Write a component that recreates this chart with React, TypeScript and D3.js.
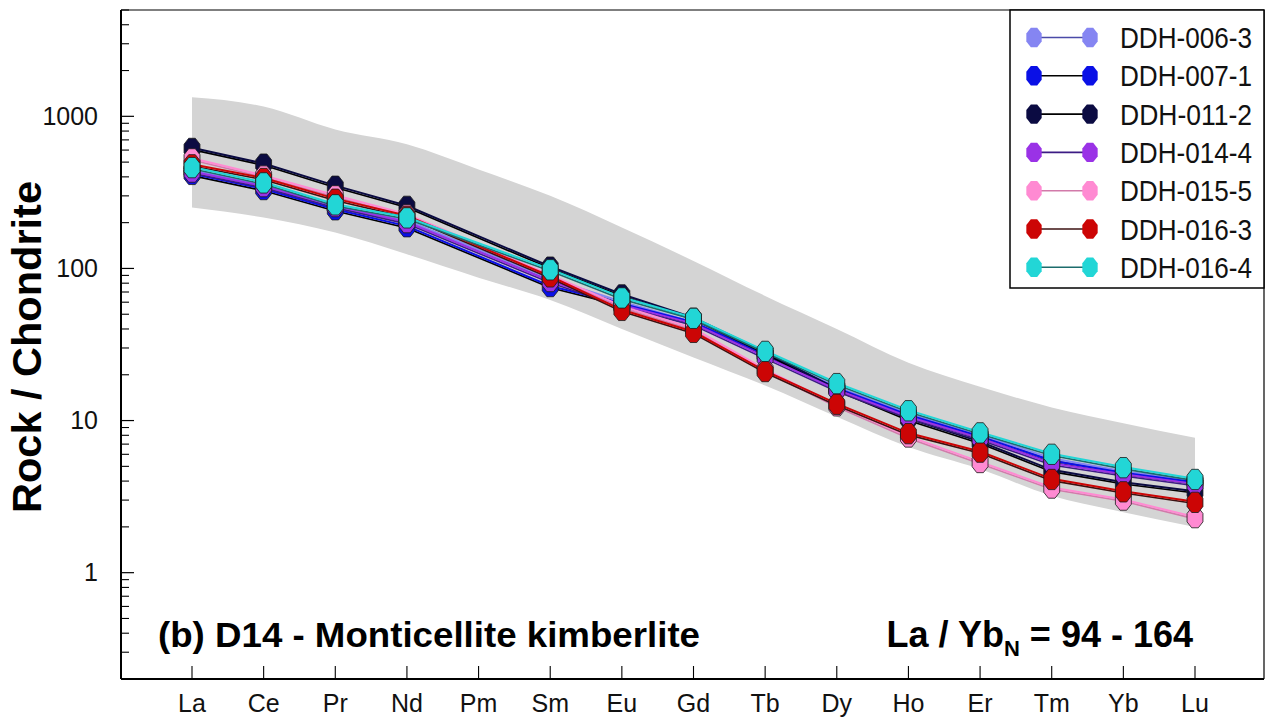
import React from "react";
import * as d3 from "d3";

const elements = ["La", "Ce", "Pr", "Nd", "Pm", "Sm", "Eu", "Gd", "Tb", "Dy", "Ho", "Er", "Tm", "Yb", "Lu"];
const seriesNames = ["DDH-006-3", "DDH-007-1", "DDH-011-2", "DDH-014-4", "DDH-015-5", "DDH-016-3", "DDH-016-4"];

const ddh0063 = [440, 350, 255, 205, null, 85, 60, 44, 27, 16.5, 11.0, 8.0, 5.6, 4.6, 4.0];
const ddh0071 = [415, 330, 243, 188, null, 76, 58, 44, 27, 16.2, 10.8, 7.8, 5.4, 4.5, 3.9];
const ddh0112 = [615, 485, 347, 256, null, 102, 67, 47, 28, 16.0, 10.2, 7.2, 4.7, 3.9, 3.4];
const ddh0144 = [430, 345, 255, 200, null, 82, 57, 43, 26, 15.8, 10.5, 7.6, 5.2, 4.4, 3.8];
const ddh0155 = [525, 405, 300, 225, null, 90, 56, 40, 21.5, 12.5, 7.8, 5.3, 3.6, 3.0, 2.3];
const ddh0163 = [480, 390, 285, 220, null, 88, 53, 38, 21, 12.8, 8.2, 6.2, 4.1, 3.4, 2.9];
const ddh0164 = [460, 365, 262, 215, null, 98, 64, 47, 28.5, 17.5, 11.6, 8.3, 6.0, 4.9, 4.1];

const seriesValues = [ddh0063, ddh0071, ddh0112, ddh0144, ddh0155, ddh0163, ddh0164];
const markerColors = ["#8585f2", "#0a10e6", "#0b0b42", "#9a32e6", "#ff8ad2", "#cc0505", "#22d6d6"];
const lineColors = ["#4a4aa8", "#000000", "#000000", "#3c1c84", "#d27aaa", "#3c1212", "#1c6c6c"];

const envelopeUpper = [1333, 1160, 820, 655, 447, 300, 186, 112, 66, 40, 24, 16.7, 12.2, 9.6, 7.7];
const envelopeLower = [252, 216, 172, 124, 87, 62, 40, 26, 17, 10.6, 6.7, 4.8, 3.2, 2.5, 2.0];

const yTickValues = [1, 10, 100, 1000];
const yDomain = [0.2, 5000];

const W = 1269;
const H = 726;
const left = 121;
const right = 1264;
const top = 10;
const bottom = 679;

function octagon(cx: number, cy: number, rx: number, ry: number) {
  const pts: [number, number][] = [];
  for (let k = 0; k < 8; k++) {
    const a = ((22.5 + 45 * k) * Math.PI) / 180;
    pts.push([cx + rx * Math.cos(a), cy + ry * Math.sin(a)]);
  }
  return "M" + pts.map((p) => p[0].toFixed(2) + "," + p[1].toFixed(2)).join("L") + "Z";
}

export default function App() {
  const x = d3.scalePoint<string>().domain(elements).range([192, 1195]);
  const y = d3.scaleLog().domain(yDomain).range([bottom, top]);

  const idx = elements.map((_, i) => i);
  const area = d3
    .area<number>()
    .x((i) => x(elements[i]) as number)
    .y0((i) => y(envelopeLower[i]))
    .y1((i) => y(envelopeUpper[i]))
    .curve(d3.curveMonotoneX);

  const line = d3
    .line<{ e: string; v: number }>()
    .x((p) => x(p.e) as number)
    .y((p) => y(p.v));

  const seriesPts = seriesValues.map((vals) =>
    vals
      .map((v, i) => ({ e: elements[i], v: v as number }))
      .filter((p) => p.v != null)
  );

  const minorTicks: number[] = [];
  for (let d = -1; d <= 3; d++) {
    for (let k = 1; k <= 9; k++) {
      const v = k * Math.pow(10, d);
      if (v >= yDomain[0] - 1e-9 && v <= yDomain[1] + 1e-9 && !yTickValues.includes(v)) minorTicks.push(v);
    }
  }

  const font = "Arial, 'Liberation Sans', sans-serif";
  const legendX = 1010;
  const legendRow0 = 37.5;
  const legendStep = 38.3;

  return (
    <div style={{ position: "absolute", left: 0, top: 0 }}>
      <svg width={W} height={H} style={{ display: "block", background: "#fff" }}>
        <path d={area(idx) || ""} fill="#d4d4d4" />

        {/* lines */}
        {seriesPts.map((pts, s) => (
          <g key={"l" + s}>
            <path d={line(pts) || ""} transform="translate(0,1.2)" fill="none" stroke={lineColors[s]} strokeWidth={1.6} />
            <path d={line(pts) || ""} transform="translate(0,-0.6)" fill="none" stroke={markerColors[s]} strokeWidth={2} />
          </g>
        ))}

        {/* markers */}
        {seriesPts.map((pts, s) => (
          <g key={"m" + s}>
            {pts.map((p, i) => (
              <path
                key={i}
                d={octagon(x(p.e) as number, y(p.v), 8.6, 11)}
                fill={markerColors[s]}
                stroke="#1a1a1a"
                strokeOpacity={0.8}
                strokeWidth={1}
              />
            ))}
          </g>
        ))}

        {/* frame */}
        <line x1={left} x2={right} y1={top} y2={top} stroke="#000" strokeWidth={1.2} />
        <line x1={right} x2={right} y1={top} y2={bottom} stroke="#000" strokeWidth={1.2} />
        <line x1={left} x2={left} y1={top} y2={bottom} stroke="#000" strokeWidth={2} />
        <line x1={left} x2={right} y1={bottom} y2={bottom} stroke="#000" strokeWidth={2} />

        {/* y ticks */}
        {yTickValues.map((v) => (
          <g key={"yt" + v}>
            <line x1={left} x2={left + 13} y1={y(v)} y2={y(v)} stroke="#000" strokeWidth={1.2} />
            <text x={98} y={y(v) + 8.5} textAnchor="end" fontFamily={font} fontSize={25} fill="#111">
              {String(v)}
            </text>
          </g>
        ))}
        {minorTicks.map((v) => (
          <line key={"ym" + v} x1={left} x2={left + 8} y1={y(v)} y2={y(v)} stroke="#000" strokeWidth={1.1} />
        ))}

        {/* x ticks */}
        {elements.map((e) => (
          <g key={"xt" + e}>
            <line x1={x(e) as number} x2={x(e) as number} y1={bottom} y2={bottom - 13} stroke="#000" strokeWidth={1.1} />
            <text x={x(e) as number} y={712} textAnchor="middle" fontFamily={font} fontSize={25} fill="#111">
              {e}
            </text>
          </g>
        ))}

        {/* y axis title */}
        <text
          transform="translate(41,347) rotate(-90)"
          textAnchor="middle"
          fontFamily={font}
          fontWeight="bold"
          fontSize={40}
          textLength={332}
          lengthAdjust="spacingAndGlyphs"
          fill="#000"
        >
          Rock / Chondrite
        </text>

        {/* annotations */}
        <text x={158} y={647} fontFamily={font} fontWeight="bold" fontSize={35} textLength={542} lengthAdjust="spacingAndGlyphs" fill="#000">
          (b) D14 - Monticellite kimberlite
        </text>
        <text x={1193} y={647} textAnchor="end" fontFamily={font} fontWeight="bold" fontSize={36} fill="#000">
          La / Yb
          <tspan dy={9} fontSize={22}>N</tspan>
          <tspan dy={-9}> = 94 - 164</tspan>
        </text>

        {/* legend */}
        <rect x={legendX} y={top} width={right - legendX} height={278} fill="#fff" stroke="#000" strokeWidth={1.5} />
        {seriesNames.map((n, s) => {
          const cy = legendRow0 + legendStep * s;
          return (
            <g key={"lg" + s}>
              <line x1={1040} x2={1084} y1={cy} y2={cy} stroke={lineColors[s]} strokeWidth={1.6} />
              <path d={octagon(1034, cy, 8.3, 10.5)} fill={markerColors[s]} />
              <path d={octagon(1090, cy, 8.3, 10.5)} fill={markerColors[s]} />
              <text x={1120} y={cy + 10.5} fontFamily={font} fontSize={29} textLength={132} lengthAdjust="spacingAndGlyphs" fill="#111">
                {n}
              </text>
            </g>
          );
        })}
      </svg>
    </div>
  );
}
